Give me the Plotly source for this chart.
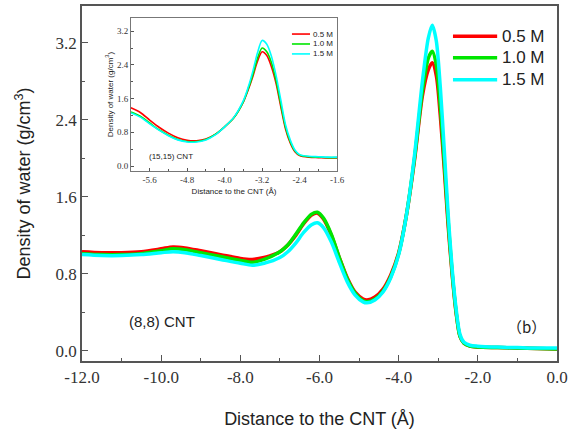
import plotly.graph_objects as go

# ---- (8,8) CNT: water density vs distance to the tube wall ----
dist_88 = [-12.0, -11.5, -11.0, -10.5, -10.0, -9.7, -9.4, -9.0, -8.5, -8.0, -7.7, -7.4,
           -7.0, -6.8, -6.6, -6.4, -6.2, -6.05, -5.9, -5.7, -5.5, -5.3, -5.1, -4.9,
           -4.8, -4.6, -4.4, -4.2, -4.0, -3.8, -3.6, -3.4, -3.25, -3.15, -3.05, -2.95,
           -2.85, -2.75, -2.65, -2.55, -2.45, -2.35, -2.2, -2.0, -1.5, -1.0, -0.5, 0.0]
rho_88_05 = [1.03, 1.02, 1.02, 1.03, 1.06, 1.08, 1.07, 1.04, 1.00, 0.96, 0.95, 0.97,
             1.03, 1.10, 1.20, 1.32, 1.41, 1.43, 1.37, 1.20, 0.97, 0.76, 0.61, 0.54,
             0.53, 0.56, 0.64, 0.79, 1.02, 1.42, 1.98, 2.65, 2.92, 2.99, 2.86, 2.45,
             1.90, 1.30, 0.80, 0.40, 0.15, 0.08, 0.05, 0.04, 0.035, 0.03, 0.025, 0.02]
rho_88_10 = [1.01, 1.00, 1.00, 1.01, 1.04, 1.06, 1.05, 1.02, 0.98, 0.94, 0.92, 0.95,
             1.03, 1.10, 1.21, 1.33, 1.42, 1.44, 1.38, 1.21, 0.97, 0.75, 0.60, 0.52,
             0.51, 0.54, 0.62, 0.77, 1.01, 1.42, 2.00, 2.70, 3.04, 3.11, 2.97, 2.55,
             1.97, 1.35, 0.82, 0.41, 0.15, 0.08, 0.05, 0.04, 0.035, 0.03, 0.025, 0.02]
rho_88_15 = [1.00, 0.99, 0.99, 1.00, 1.02, 1.03, 1.02, 0.99, 0.95, 0.91, 0.89, 0.91,
             0.97, 1.03, 1.12, 1.23, 1.31, 1.33, 1.28, 1.13, 0.92, 0.72, 0.58, 0.51,
             0.50, 0.53, 0.61, 0.76, 1.00, 1.42, 2.03, 2.80, 3.25, 3.38, 3.22, 2.75,
             2.10, 1.42, 0.86, 0.44, 0.17, 0.09, 0.06, 0.05, 0.04, 0.035, 0.03, 0.03]

# ---- (15,15) CNT (inset) ----
dist_1515 = [-6.0, -5.8, -5.6, -5.4, -5.2, -5.0, -4.8, -4.6, -4.4, -4.2, -4.0, -3.8,
             -3.6, -3.5, -3.4, -3.3, -3.2, -3.1, -3.0, -2.9, -2.8, -2.7, -2.6, -2.5,
             -2.4, -2.2, -2.0, -1.8, -1.6]
rho_1515_05 = [1.38, 1.27, 1.09, 0.92, 0.78, 0.67, 0.61, 0.60, 0.64, 0.75, 0.93, 1.15,
               1.52, 1.80, 2.12, 2.48, 2.71, 2.62, 2.35, 1.95, 1.40, 0.88, 0.55, 0.34,
               0.25, 0.21, 0.20, 0.19, 0.19]
rho_1515_10 = [1.28, 1.18, 1.02, 0.86, 0.73, 0.63, 0.58, 0.58, 0.63, 0.75, 0.93, 1.15,
               1.53, 1.82, 2.16, 2.55, 2.80, 2.71, 2.45, 2.02, 1.46, 0.92, 0.58, 0.36,
               0.26, 0.22, 0.21, 0.20, 0.20]
rho_1515_15 = [1.26, 1.16, 1.00, 0.85, 0.72, 0.62, 0.57, 0.57, 0.62, 0.74, 0.93, 1.16,
               1.55, 1.86, 2.24, 2.68, 2.98, 2.89, 2.60, 2.14, 1.56, 0.98, 0.62, 0.38,
               0.27, 0.23, 0.22, 0.21, 0.21]

labels = ["0.5 M", "1.0 M", "1.5 M"]
colors = ["#ff0000", "#00e600", "#00ffff"]

# Tick positions and their printed labels (plain hyphen minus)
main_xticks = [-12, -10, -8, -6, -4, -2, 0]
main_xtext = ["-12.0", "-10.0", "-8.0", "-6.0", "-4.0", "-2.0", "0.0"]
yticks = [0, 0.8, 1.6, 2.4, 3.2]
ytext = ["0.0", "0.8", "1.6", "2.4", "3.2"]
inset_xticks = [-5.6, -4.8, -4.0, -3.2, -2.4, -1.6]
inset_xtext = ["-5.6", "-4.8", "-4.0", "-3.2", "-2.4", "-1.6"]

fig = go.Figure()

for ys, c in zip([rho_88_05, rho_88_10, rho_88_15], colors):
    fig.add_trace(go.Scatter(x=dist_88, y=ys, mode="lines", showlegend=False,
                             line=dict(color=c, width=3.5, shape="spline", smoothing=0.8),
                             xaxis="x", yaxis="y"))

for ys, c in zip([rho_1515_05, rho_1515_10, rho_1515_15], colors):
    fig.add_trace(go.Scatter(x=dist_1515, y=ys, mode="lines", showlegend=False,
                             line=dict(color=c, width=1.6, shape="spline", smoothing=0.8),
                             xaxis="x2", yaxis="y2"))

serif = "Liberation Serif, Times New Roman, serif"
sans = "Liberation Sans, Arial, sans-serif"
axcol = "#555555"

fig.update_layout(
    width=571, height=430,
    margin=dict(l=82, r=14, t=6, b=69),
    paper_bgcolor="white", plot_bgcolor="white",
    xaxis=dict(range=[-12, 0], domain=[0, 1], tickvals=main_xticks, ticktext=main_xtext,
               ticks="inside", ticklen=6, tickcolor=axcol, automargin=False,
               minor=dict(dtick=1, ticks="inside", ticklen=3, tickcolor=axcol),
               showline=True, linecolor=axcol, linewidth=1.5, mirror=True,
               showgrid=False, zeroline=False,
               tickfont=dict(family=serif, size=17, color="#333333"),
               title=dict(text="Distance to the CNT (Å)", standoff=26,
                          font=dict(family=sans, size=18, color="#222222"))),
    yaxis=dict(range=[-0.104, 3.58], domain=[0, 1], tickvals=yticks, ticktext=ytext,
               ticks="inside", ticklen=6, tickcolor=axcol, automargin=False,
               minor=dict(tickvals=[0.4, 1.2, 2.0, 2.8], ticks="inside", ticklen=3, tickcolor=axcol),
               showline=True, linecolor=axcol, linewidth=1.5, mirror=True,
               showgrid=False, zeroline=False,
               tickfont=dict(family=serif, size=17, color="#333333"),
               title=dict(text="Density of water (g/cm<sup>3</sup>)", standoff=20,
                          font=dict(family=sans, size=18, color="#222222"))),
    xaxis2=dict(range=[-6.0, -1.6], domain=[0.103, 0.537], anchor="y2",
                tickvals=inset_xticks, ticktext=inset_xtext,
                ticks="inside", ticklen=3, tickcolor=axcol,
                minor=dict(dtick=0.4, tick0=-5.2, ticks="inside", ticklen=2, tickcolor=axcol),
                showline=True, linecolor="#777777", linewidth=1, mirror=True,
                showgrid=False, zeroline=False,
                tickfont=dict(family=serif, size=9, color="#333333"),
                title=dict(text="Distance to the CNT (Å)", standoff=4,
                           font=dict(family=sans, size=8, color="#222222"))),
    yaxis2=dict(range=[-0.12, 3.51], domain=[0.535, 0.966], anchor="x2",
                tickvals=yticks, ticktext=ytext,
                ticks="inside", ticklen=3, tickcolor=axcol,
                minor=dict(tickvals=[0.4, 1.2, 2.0, 2.8], ticks="inside", ticklen=2, tickcolor=axcol),
                showline=True, linecolor="#777777", linewidth=1, mirror=True,
                showgrid=False, zeroline=False,
                tickfont=dict(family=serif, size=9, color="#333333"),
                title=dict(text="Density of water (g/cm<sup>3</sup>)", standoff=2,
                           font=dict(family=sans, size=8, color="#222222"))),
)

# Legends drawn as line samples with text labels
main_rows = [0.915, 0.854, 0.792]
inset_rows = [0.921, 0.893, 0.865]
for lab, c, yr, yi in zip(labels, colors, main_rows, inset_rows):
    fig.add_shape(type="line", xref="paper", yref="paper", x0=0.781, x1=0.874, y0=yr, y1=yr,
                  line=dict(color=c, width=3.5))
    fig.add_annotation(xref="paper", yref="paper", x=0.880, y=yr, text=lab, showarrow=False,
                       xanchor="left", yanchor="middle",
                       font=dict(family=sans, size=17, color="#222222"))
    fig.add_shape(type="line", xref="paper", yref="paper", x0=0.442, x1=0.480, y0=yi, y1=yi,
                  line=dict(color=c, width=1.6))
    fig.add_annotation(xref="paper", yref="paper", x=0.482, y=yi, text=lab, showarrow=False,
                       xanchor="left", yanchor="middle",
                       font=dict(family=sans, size=8, color="#222222"))

fig.add_annotation(xref="paper", yref="paper", x=0.095, y=0.110, text="(8,8) CNT",
                   showarrow=False, xanchor="left", yanchor="middle",
                   font=dict(family=sans, size=15, color="#222222"))
fig.add_annotation(xref="paper", yref="paper", x=0.935, y=0.096, text="（b）",
                   showarrow=False, xanchor="center", yanchor="middle",
                   font=dict(family="Noto Sans CJK SC", size=15, color="#222222"))
fig.add_annotation(xref="paper", yref="paper", x=0.137, y=0.577, text="(15,15) CNT",
                   showarrow=False, xanchor="left", yanchor="middle",
                   font=dict(family=sans, size=8, color="#222222"))

fig.write_html("out.html")
